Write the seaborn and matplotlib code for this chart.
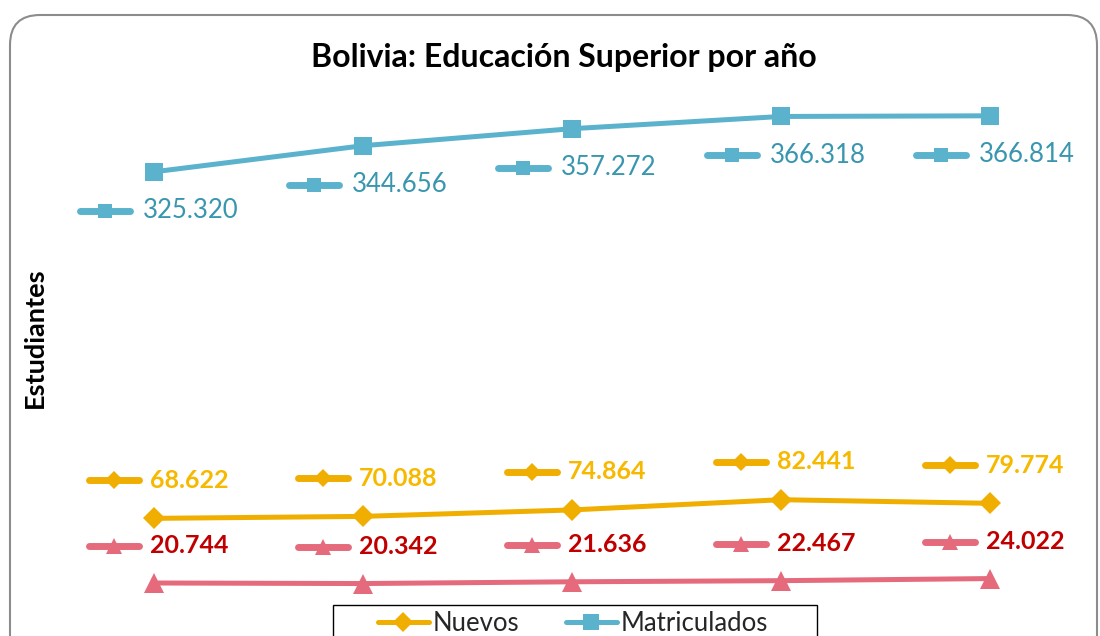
import pandas as pd
import numpy as np
import matplotlib
matplotlib.use("Agg")
import matplotlib.pyplot as plt
import matplotlib.transforms as mtransforms
from matplotlib.markers import MarkerStyle
from matplotlib.lines import Line2D
from matplotlib.patches import FancyBboxPatch, Rectangle
import seaborn as sns

# data (years are not shown on the x axis)
periods = [1, 2, 3, 4, 5]
matriculados = [325320, 344656, 357272, 366318, 366814]
nuevos = [68622, 70088, 74864, 82441, 79774]
titulados = [20744, 20342, 21636, 22467, 24022]

sns.set_theme(style="white")
plt.rcParams['font.family'] = ['Lato', 'DejaVu Sans']

blue, blue_txt = "#5BB2CD", "#3996AF"
gold, gold_txt = "#F0AE00", "#F7B900"
pink, red_txt = "#E56A7C", "#C00000"

fig = plt.figure(figsize=(11, 6.36), dpi=100)
ax = fig.add_axes([49.5 / 1100, 25 / 636, 1045 / 1100, 540 / 636])

series = [
    ("Matriculados", matriculados, blue, "s", 13, blue_txt, "normal", (-49, -39), -11),
    ("Nuevos", nuevos, gold, "D", 11, gold_txt, "bold", (-40, 38), -4),
    ("Titulados", titulados, pink, "^", 14, red_txt, "bold", (-40, 37), -4),
]

x = np.arange(len(periods))
for name, vals, col, mk, ms, tcol, tw, (kx, ky), tx in series:
    df = pd.DataFrame({"x": x, "y": vals})
    sns.lineplot(data=df, x="x", y="y", ax=ax, color=col, lw=3.6, marker=mk,
                 markersize=ms, markeredgewidth=0, legend=False)
    # data labels with their small legend key, as in the Excel chart
    for xi, v in zip(x, vals):
        tr = mtransforms.offset_copy(ax.transData, fig=fig, x=kx, y=ky, units="dots")
        ax.plot([xi], [v], transform=tr, marker=MarkerStyle("_", capstyle="round"),
                markersize=36, markeredgewidth=5, color=col, clip_on=False)
        ax.plot([xi], [v], transform=tr, marker=mk, markersize=ms * 0.8,
                markeredgewidth=0, color=col, clip_on=False)
        ttr = mtransforms.offset_copy(ax.transData, fig=fig, x=tx, y=ky, units="dots")
        lbl = f"{v:,}".replace(",", ".")
        ax.text(xi, v, lbl, transform=ttr, ha="left", va="center", color=tcol,
                fontsize=18.5 if tw == "normal" else 18, fontweight=tw)

ax.set_xlim(-0.5, 4.5)
ax.set_ylim(0, 400000)
ax.set_xticks([])
ax.set_yticks([])
ax.set_xlabel("")
ax.set_ylabel("")
for s in ax.spines.values():
    s.set_visible(False)
ax.patch.set_alpha(0)

fig.text(35 / 1100, 1 - 338 / 636, "Estudiantes", rotation=90, ha="center", va="center",
         fontsize=19.5, fontweight="bold", color="black")
fig.text(564 / 1100, 1 - 57 / 636, "Bolivia: Educación Superior por año",
         ha="center", va="center", fontsize=23, fontweight="bold", color="black")

handles = [
    Line2D([], [], color=gold, lw=3.6, marker="D", markersize=10, markeredgewidth=0),
    Line2D([], [], color=blue, lw=3.6, marker="s", markersize=12, markeredgewidth=0),
]
leg = fig.legend(handles, ["Nuevos", "Matriculados"], loc="upper left",
                 bbox_to_anchor=(375 / 1100, 1 - 608 / 636), ncol=2, fontsize=18.5,
                 frameon=False, handlelength=2.0, handletextpad=0.15,
                 columnspacing=1.8, borderpad=0.1, borderaxespad=0)

# legend box (cut by the picture's lower edge, as in the reference)
fig.patches.append(Rectangle((333, -10), 484, 41, transform=None, facecolor="none",
                             edgecolor="black", lw=1))

border = FancyBboxPatch((10, -40), 1087, 661, boxstyle="round,pad=0,rounding_size=30",
                        transform=None, facecolor="none", edgecolor="#8C8C8C", lw=1.5)
fig.patches.append(border)

fig.savefig("out.png", dpi=100)
